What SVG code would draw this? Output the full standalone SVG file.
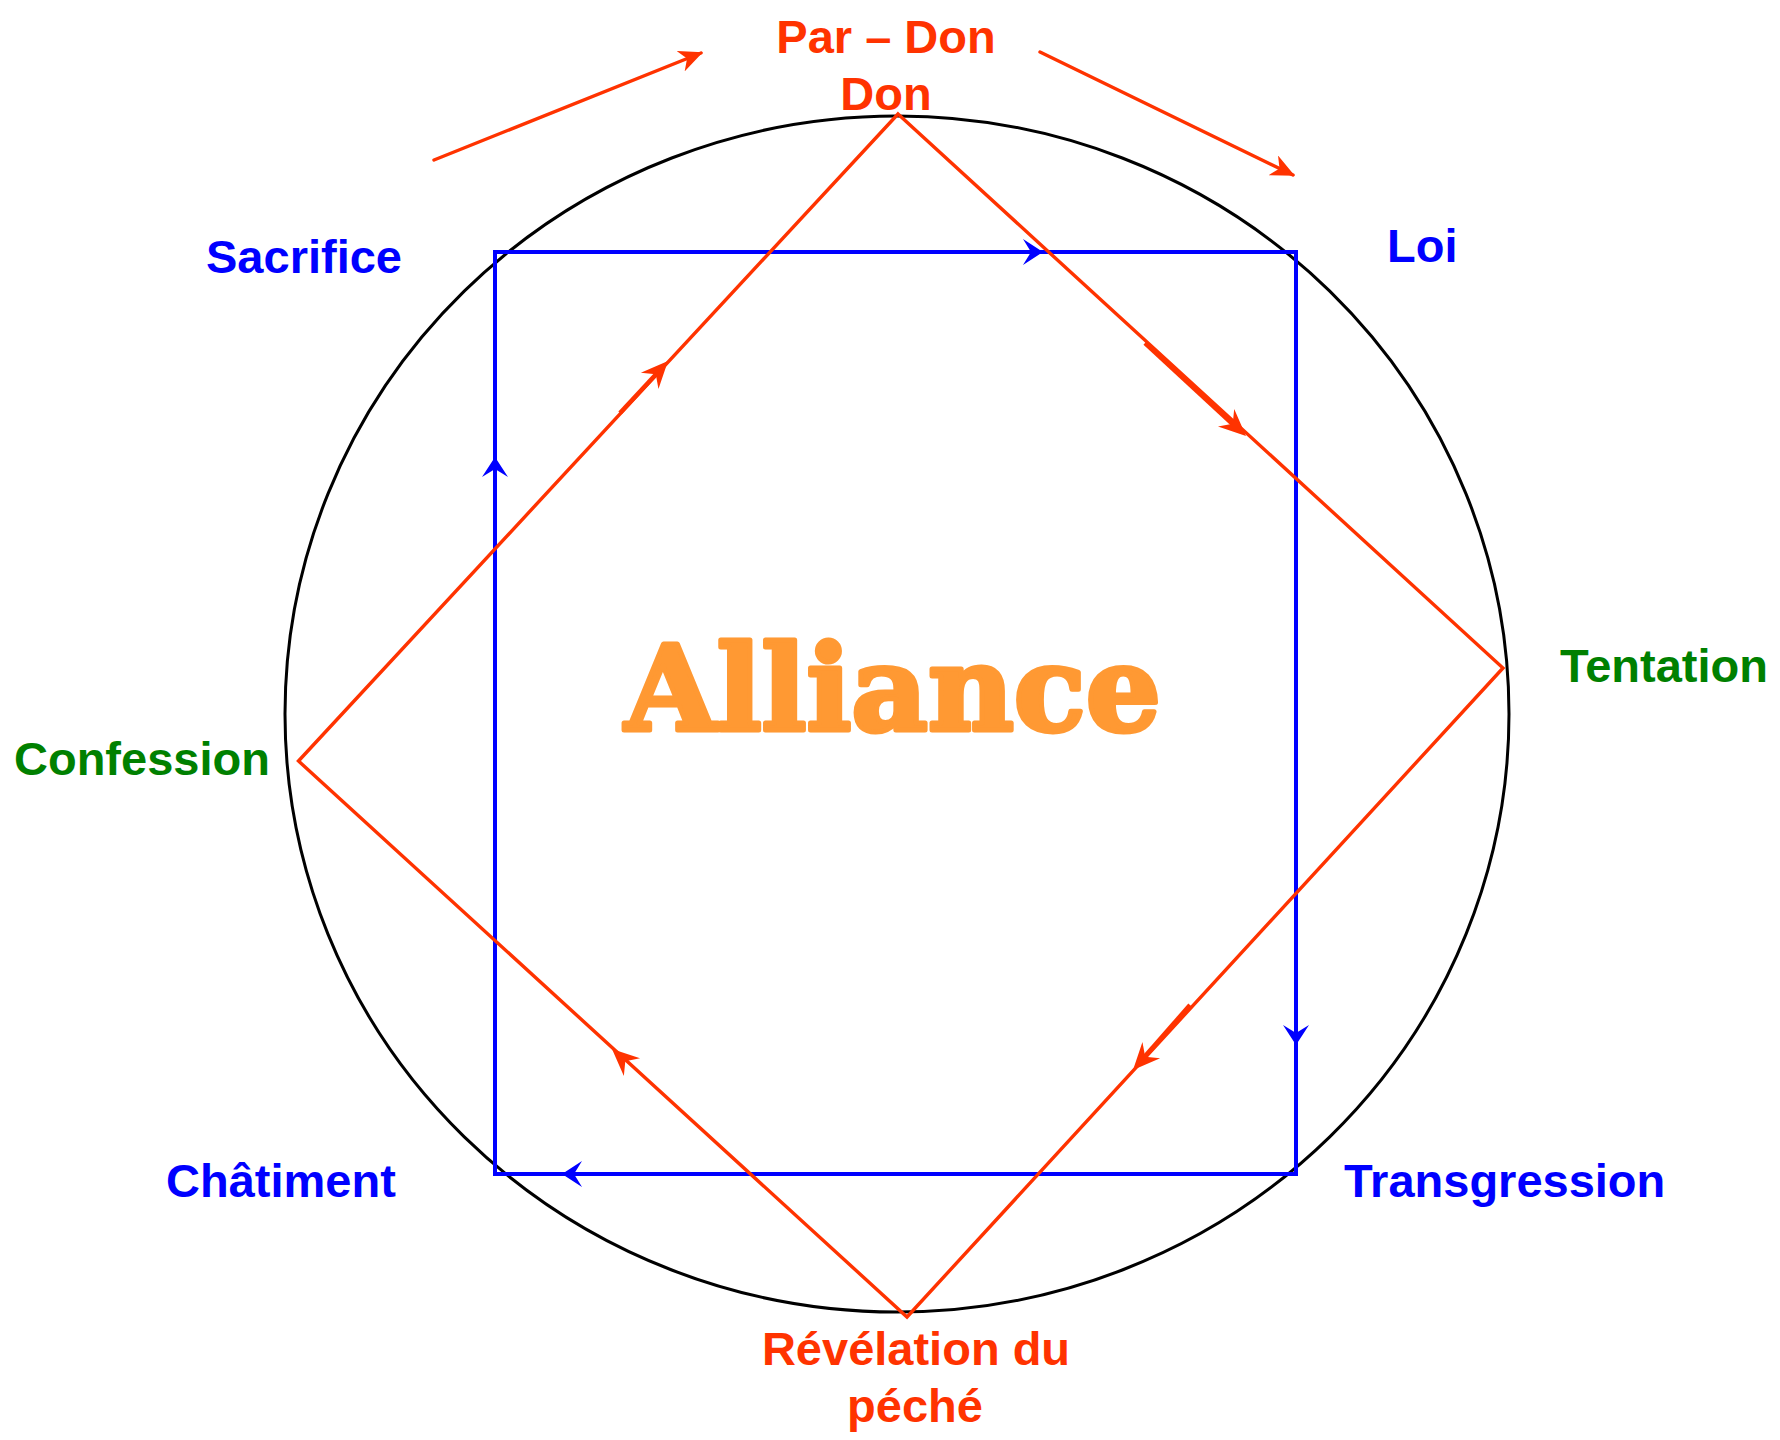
<svg xmlns="http://www.w3.org/2000/svg" width="1780" height="1440" viewBox="0 0 1780 1440">
<style>
.lbl{font-family:"Liberation Sans",Arial,sans-serif;font-weight:bold;font-size:47px}
.blue{fill:#0000FF}
.green{fill:#008000}
.red{fill:#FF3300}
.redline{stroke:#FF3300;stroke-width:3.4;fill:none;stroke-linecap:round}
.blueline{stroke:#0000FF;stroke-width:4;fill:none}
.shaft{stroke:#FF3300;stroke-width:4.5;fill:none}
</style>
<defs>
<path id="bh" d="M0,0 L-20,-13 L-12,0 L-20,13 Z" fill="#0000FF"/>
<path id="rh" d="M0,0 L-27,-12 L-18,0 L-27,12 Z" fill="#FF3300"/>
<marker id="rarrow" viewBox="0 0 24 22" refX="22" refY="11" markerWidth="24" markerHeight="22" markerUnits="userSpaceOnUse" orient="auto">
<path d="M0,0 L24,11 L0,22 L7,11 Z" fill="#FF3300"/>
</marker>
</defs>
<rect width="1780" height="1440" fill="#FFFFFF"/>
<g id="circle">
<ellipse cx="897" cy="714" rx="612" ry="598" fill="none" stroke="#000000" stroke-width="3"/>
</g>
<g id="connectors">
<rect x="495" y="252" width="801" height="922" class="blueline"/>
<use href="#bh" transform="translate(1043,252)"/>
<use href="#bh" transform="translate(1296,1045) rotate(90)"/>
<use href="#bh" transform="translate(562,1174) rotate(180)"/>
<use href="#bh" transform="translate(495,457) rotate(-90)"/>
<polygon points="898,114 1503,668 907,1317 298.5,761" class="redline" stroke-linejoin="miter"/>
<line x1="620" y1="413" x2="660" y2="370" class="shaft"/>
<line x1="1145" y1="343" x2="1238" y2="429" class="shaft"/>
<line x1="1190" y1="1005" x2="1140" y2="1062" class="shaft"/>
<use href="#rh" transform="translate(668,361) rotate(-47.2)"/>
<use href="#rh" transform="translate(1246,436) rotate(42.5)"/>
<use href="#rh" transform="translate(1133,1070) rotate(132.6)"/>
<use href="#rh" transform="translate(612,1049) rotate(-137.6)"/>
<line x1="434" y1="160" x2="701" y2="53" class="redline" marker-end="url(#rarrow)"/>
<line x1="1040" y1="52" x2="1293" y2="175" class="redline" marker-end="url(#rarrow)"/>
</g>
<g id="node-alliance">
<text x="893" y="730" text-anchor="middle" font-family="'DejaVu Serif',serif" font-weight="bold" font-size="118" fill="#FF9933" stroke="#FF9933" stroke-width="5" stroke-linejoin="round" textLength="536" lengthAdjust="spacingAndGlyphs">Alliance</text>
</g>
<g id="node-pardon">
<text class="lbl red" x="886" y="53" text-anchor="middle">Par – Don</text>
<text class="lbl red" x="886" y="110" text-anchor="middle">Don</text>
</g>
<g id="node-sacrifice"><text class="lbl blue" x="206" y="273">Sacrifice</text></g>
<g id="node-loi"><text class="lbl blue" x="1387" y="262">Loi</text></g>
<g id="node-tentation"><text class="lbl green" x="1560" y="682">Tentation</text></g>
<g id="node-confession"><text class="lbl green" x="14" y="775" font-size="48">Confession</text></g>
<g id="node-chatiment"><text class="lbl blue" x="166" y="1197">Châtiment</text></g>
<g id="node-transgression"><text class="lbl blue" x="1344" y="1197">Transgression</text></g>
<g id="node-revelation">
<text class="lbl red" x="916" y="1365" text-anchor="middle">Révélation du</text>
<text class="lbl red" x="915" y="1422" text-anchor="middle">péché</text>
</g>
</svg>
